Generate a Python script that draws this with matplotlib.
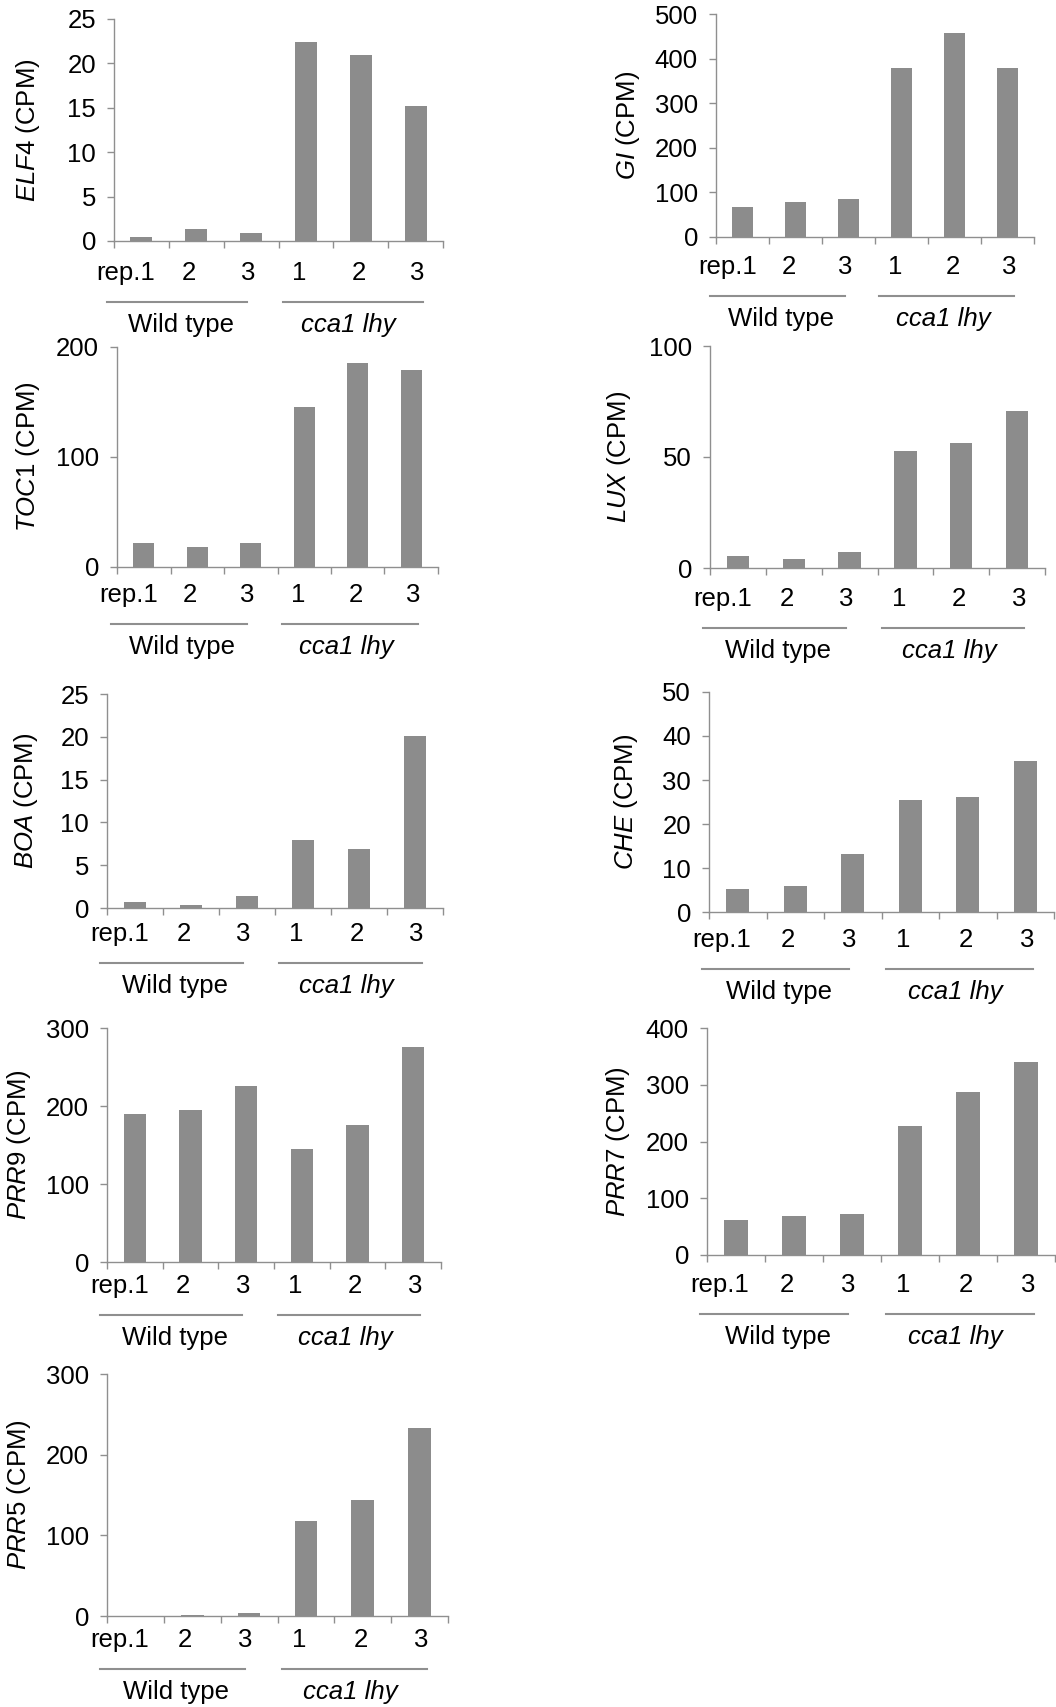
import matplotlib
matplotlib.use("Agg")
import matplotlib.pyplot as plt
import matplotlib.transforms as mtransforms
import numpy as np

plt.rcParams['font.family'] = ['Liberation Sans', 'DejaVu Sans']
plt.rcParams['mathtext.fontset'] = 'custom'
plt.rcParams['mathtext.rm'] = 'Liberation Sans'
plt.rcParams['mathtext.it'] = 'Liberation Sans:italic'

# data (CPM), order: WT rep1-3, cca1 lhy rep1-3
rep_labels = ['rep.1', '2', '3', '1', '2', '3']
group_labels = ['Wild type', 'cca1 lhy']
genes = ['ELF4', 'GI', 'TOC1', 'LUX', 'BOA', 'CHE', 'PRR9', 'PRR7', 'PRR5']
elf4 = [0.4, 1.4, 0.9, 22.4, 21.0, 15.2]
gi = [67, 79, 85, 380, 457, 380]
toc1 = [21.5, 18.2, 21.5, 145.8, 185.8, 179.4]
lux = [5.4, 4.2, 7.4, 52.6, 56.5, 70.7]
boa = [0.7, 0.4, 1.4, 8.0, 6.9, 20.1]
che = [5.2, 6.0, 13.2, 25.5, 26.1, 34.4]
prr9 = [189.7, 194.4, 225.6, 144.9, 175.2, 275.2]
prr7 = [61.8, 69.4, 72.9, 227.6, 286.5, 340.6]
prr5 = [0.3, 1.7, 3.7, 118.0, 144.2, 233.3]
values = [elf4, gi, toc1, lux, boa, che, prr9, prr7, prr5]
ymax = [25, 500, 200, 100, 25, 50, 300, 400, 300]
ystep = [5, 100, 100, 50, 5, 10, 100, 100, 100]

# panel boxes in pixels: left, right, top, bottom
boxes = [(114, 443, 19, 241), (716, 1034, 14, 237),
         (117, 438, 347, 567), (710, 1045, 346, 568),
         (107, 443, 694, 908), (709, 1054, 692, 912),
         (107, 441, 1028, 1262), (707, 1055, 1028, 1255),
         (107, 448, 1374, 1616)]
label_drop = [32, 30, 28, 31, 26, 28, 24, 30, 24]
ylab_off = [-72, -74, -75, -77, -67, -69, -74, -75, -74]
tick_shift = [-0.28, -0.13, -0.06, -0.12, -0.04, 0.03]

W, H = 1056, 1707
fig = plt.figure(figsize=(W / 100, H / 100), dpi=100)
bar_c = '#8c8c8c'
axis_c = '#8f8f8f'

for i, g in enumerate(genes):
    l, r, t, b = boxes[i]
    ax = fig.add_axes([l / W, 1 - b / H, (r - l) / W, (b - t) / H])
    x = np.arange(6)
    ax.bar(x, values[i], width=0.4, color=bar_c)
    ax.set_xlim(-0.5, 5.5)
    ax.set_ylim(0, ymax[i])
    ax.set_yticks(np.arange(0, ymax[i] + 1, ystep[i]))
    ax.set_xticks(np.arange(-0.5, 6, 1))
    ax.set_xticklabels([])
    for s in ['top', 'right']:
        ax.spines[s].set_visible(False)
    for s in ['left', 'bottom']:
        ax.spines[s].set_color(axis_c)
        ax.spines[s].set_linewidth(1.0)
    ax.tick_params(axis='y', direction='out', length=5, width=1.0,
                   color=axis_c, labelsize=18.5, pad=8)
    ax.tick_params(axis='x', direction='out', length=5, width=1.0,
                   color=axis_c)
    ax.set_ylabel(r'$\mathit{' + g + '}$ (CPM)', fontsize=18.5)
    ax.yaxis.set_label_coords(ylab_off[i] / (r - l), 0.5)

    d = label_drop[i]
    tr_lab = mtransforms.offset_copy(ax.get_xaxis_transform(), fig=fig,
                                     y=-d, units='dots')
    tr_line = mtransforms.offset_copy(ax.get_xaxis_transform(), fig=fig,
                                      y=-(d + 29), units='dots')
    tr_grp = mtransforms.offset_copy(ax.get_xaxis_transform(), fig=fig,
                                     y=-(d + 52), units='dots')
    for j, lab in enumerate(rep_labels):
        ax.text(x[j] + tick_shift[j], 0, lab, transform=tr_lab, fontsize=18.5,
                ha='center', va='center')
    ax.plot([-0.62, 1.93], [0, 0], transform=tr_line, color=axis_c,
            lw=1.5, clip_on=False)
    ax.plot([2.58, 5.13], [0, 0], transform=tr_line, color=axis_c,
            lw=1.5, clip_on=False)
    ax.text(0.72, 0, group_labels[0], transform=tr_grp, fontsize=18.5,
            ha='center', va='center')
    ax.text(3.78, 0, group_labels[1], transform=tr_grp, fontsize=18.5,
            ha='center', va='center', style='italic')

plt.savefig("out.png", dpi=100)
